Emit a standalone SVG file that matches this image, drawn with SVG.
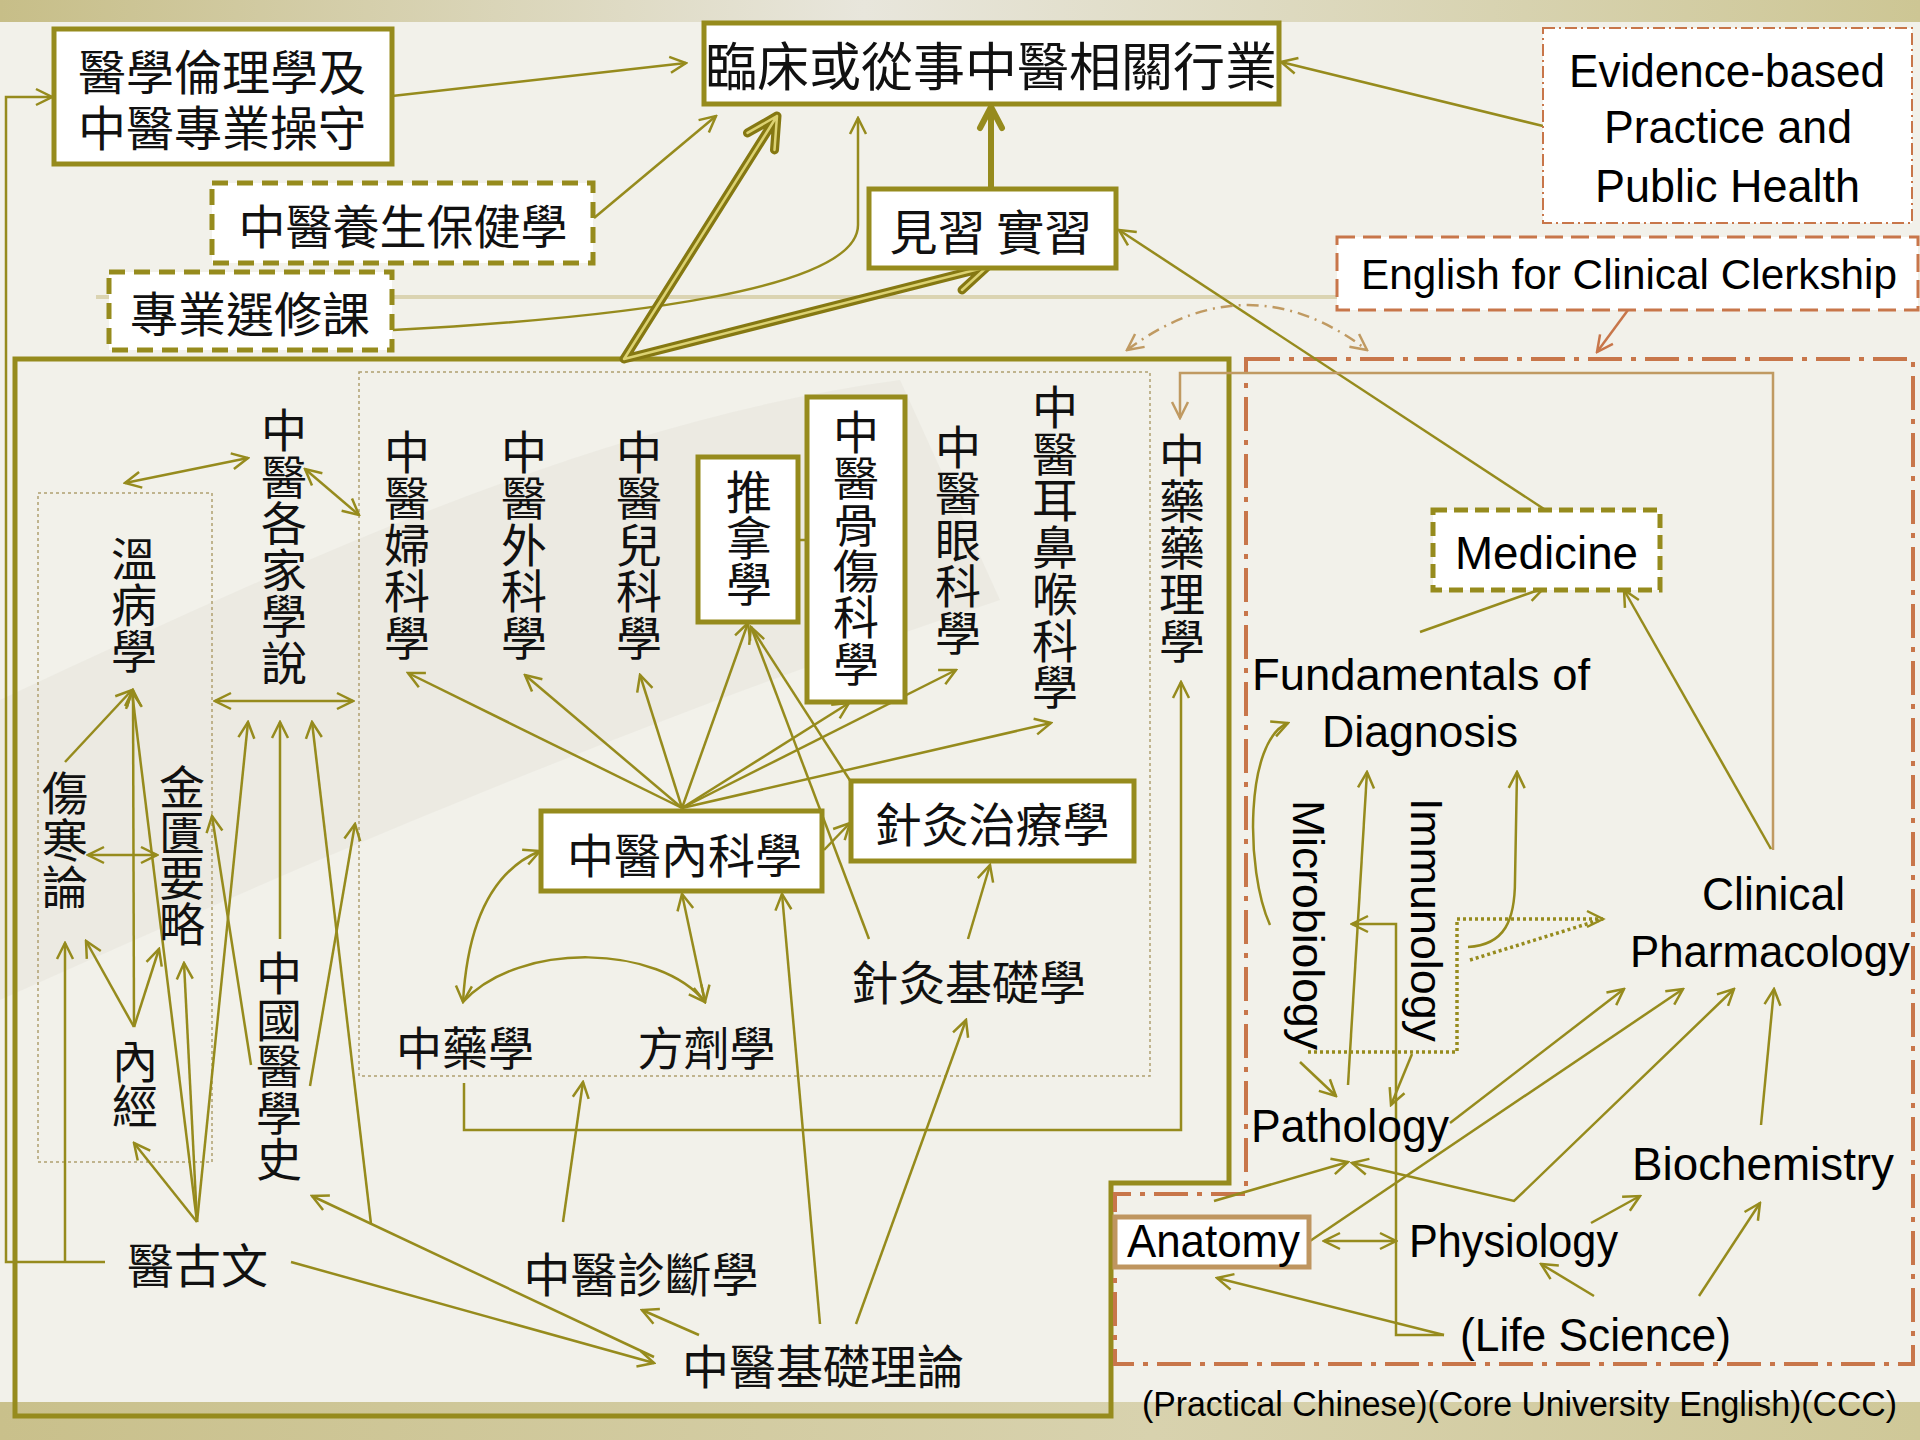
<svg xmlns="http://www.w3.org/2000/svg" width="1920" height="1440" viewBox="0 0 1920 1440">
<defs>
<linearGradient id="band" x1="0" y1="0" x2="1" y2="0">
<stop offset="0" stop-color="#c7be88"/>
<stop offset="0.45" stop-color="#e8e6dc"/>
<stop offset="1" stop-color="#cdc694"/>
</linearGradient>
<linearGradient id="band2" x1="0" y1="0" x2="1" y2="0">
<stop offset="0" stop-color="#c9c08b"/>
<stop offset="0.6" stop-color="#d8d2ae"/>
<stop offset="1" stop-color="#cfc898"/>
</linearGradient>
<marker id="a" viewBox="0 0 20 20" refX="18" refY="10" markerWidth="20" markerHeight="20" markerUnits="userSpaceOnUse" orient="auto-start-reverse">
<path d="M2,2 L18,10 L2,18" fill="none" stroke="#968b1d" stroke-width="2.5"/>
</marker>
<marker id="ao" viewBox="0 0 20 20" refX="18" refY="10" markerWidth="20" markerHeight="20" markerUnits="userSpaceOnUse" orient="auto-start-reverse">
<path d="M2,2 L18,10 L2,18" fill="none" stroke="#c8764a" stroke-width="2.5"/>
</marker>
<marker id="at" viewBox="0 0 20 20" refX="18" refY="10" markerWidth="20" markerHeight="20" markerUnits="userSpaceOnUse" orient="auto-start-reverse">
<path d="M2,2 L18,10 L2,18" fill="none" stroke="#c09a62" stroke-width="2.5"/>
</marker>
<style>
.c{fill:none;stroke:#968b1d;stroke-width:2.5}
.ae{marker-end:url(#a)}
.ab{marker-start:url(#a);marker-end:url(#a)}
.box{fill:#fff;stroke:#968b1d;stroke-width:5}
.dbox{fill:#fff;stroke:#968b1d;stroke-width:5;stroke-dasharray:16 9}
.zh{font-family:'Noto Sans CJK TC','Noto Sans CJK SC',sans-serif;fill:#111;text-anchor:middle}
.en{font-family:'Liberation Sans',Arial,sans-serif;fill:#000}
.dot{fill:none;stroke:#b0a070;stroke-width:1.5;stroke-dasharray:3 3}
</style>
</defs>

<!-- background -->
<rect x="0" y="0" width="1920" height="1440" fill="#f2f1ea"/>
<path d="M0,700 C300,560 600,420 900,380 L1000,600 C700,700 400,820 0,1000 Z" fill="#e4e3da" opacity="0.45"/>
<rect x="0" y="0" width="1920" height="22" fill="url(#band)"/>
<rect x="0" y="1402" width="1920" height="38" fill="url(#band2)"/>
<line x1="96" y1="297" x2="1337" y2="297" stroke="#dbd4b2" stroke-width="4"/>

<!-- frames -->
<g id="frames">
<path d="M15,359 L1229,359 L1229,1183 L1111,1183 L1111,1416 L15,1416 Z" fill="none" stroke="#968b1d" stroke-width="5"/>
<path d="M1246,359 L1913,359 L1913,1364 L1115,1364 L1115,1194 L1246,1194 Z" fill="none" stroke="#c8764a" stroke-width="4" stroke-dasharray="34 9 5 9"/>
<rect x="359" y="372" width="791" height="704" class="dot"/>
<rect x="38" y="493" width="174" height="669" class="dot"/>
</g>

<!-- connectors -->
<g id="connectors">
<path class="c ae" d="M392,96 L686,63"/>
<path class="c ae" d="M594,218 L716,116"/>
<path class="c ae" d="M393,330 C620,318 858,290 858,225 L858,118"/>
<path class="c ae" d="M1543,126 L1281,62"/>
<path class="c ae" d="M1544,509 L1119,230"/>
<path class="c ae" d="M105,1262 L6,1262 L6,97 L52,97"/>
<path class="c ae" d="M65,1262 L65,943"/>
<path class="c ab" d="M125,483 L248,458"/>
<path class="c ab" d="M305,469 L359,515"/>
<path class="c ab" d="M215,701 L353,701"/>
<path class="c ae" d="M65,762 L132,690"/>
<path class="c ae" d="M134,1027 L133,690"/>
<path class="c ae" d="M134,1027 L86,941"/>
<path class="c ae" d="M134,1027 L159,949"/>
<path class="c ab" d="M88,855 L157,855"/>
<path class="c ae" d="M197,1222 L132,692"/>
<path class="c ae" d="M197,1222 L134,1143"/>
<path class="c ae" d="M197,1222 L184,963"/>
<path class="c ae" d="M197,1222 L248,722"/>
<path class="c ae" d="M280,939 L280,722"/>
<path class="c ae" d="M371,1224 L312,722"/>
<path class="c ae" d="M251,1065 L212,816"/>
<path class="c ae" d="M310,1086 L355,824"/>
<path class="c ae" d="M654,1357 L312,1196"/>
<path class="c ae" d="M291,1262 L654,1363"/>
<path class="c ae" d="M699,1335 L642,1310"/>
<path class="c ae" d="M563,1222 L583,1082"/>
<path class="c ae" d="M820,1324 L782,894"/>
<path class="c ae" d="M856,1324 L966,1020"/>
<path class="c ae" d="M968,939 L990,865"/>
<path class="c ae" d="M869,939 L751,627"/>
<path class="c ab" d="M682,894 L705,1002"/>
<path class="c ab" d="M463,1002 Q470,880 540,851"/>
<path class="c ae" d="M463,1002 C520,940 660,945 705,1002"/>
<path class="c ae" d="M682,808 L408,673"/>
<path class="c ae" d="M682,808 L525,675"/>
<path class="c ae" d="M682,808 L640,675"/>
<path class="c ae" d="M682,808 L748,623"/>
<path class="c ae" d="M682,808 L849,703"/>
<path class="c ae" d="M682,808 L956,670"/>
<path class="c ae" d="M682,808 L1051,723"/>
<path class="c ae" d="M824,850 L850,823"/>
<path class="c" d="M851,782 L751,627"/>
<path class="c ab" d="M772,540 L837,540"/>
<path class="c ae" d="M464,1083 L464,1130 L1181,1130 L1181,682"/>
<path d="M1773,850 L1773,373 L1180,373 L1180,418" fill="none" stroke="#c09a62" stroke-width="2.5" marker-end="url(#at)"/>
<path d="M1628,310 L1597,352" fill="none" stroke="#c8764a" stroke-width="2.5" marker-end="url(#ao)"/>
<path d="M1127,350 Q1248,260 1367,350" fill="none" stroke="#c09a62" stroke-width="2.5" stroke-dasharray="12 6 2 6" marker-start="url(#at)" marker-end="url(#at)"/>
<g stroke-linecap="round" stroke-linejoin="round" fill="none">
<path d="M624,359 L777,116 M747.5,132.9 L777,116 L774.5,149.9 M624,359 L987,267 M954,259 L987,267 L962,290" stroke="#857812" stroke-width="9"/>
<path d="M624,359 L777,116 M747.5,132.9 L777,116 L774.5,149.9 M624,359 L987,267 M954,259 L987,267 L962,290" stroke="#dcd272" stroke-width="2.5"/>
<path d="M991,189 L991,108 M980,128 L991,107 L1002,128" stroke="#968b1d" stroke-width="6"/>
</g>
<!-- right region -->
<path class="c ae" d="M1420,632 L1544,588"/>
<path class="c ae" d="M1771,849 L1624,590"/>
<path class="c ae" d="M1270,925 C1245,870 1245,740 1288,723"/>
<path class="c ae" d="M1348,1085 L1367,772"/>
<path class="c ae" d="M1468,947 C1505,945 1515,920 1515,880 L1517,772"/>
<path d="M1308,1052 L1457,1052 L1457,919 L1603,919 M1470,960 L1603,919" fill="none" stroke="#968b1d" stroke-width="3.5" stroke-dasharray="3 3"/>
<path d="M1587,911 L1603,919 L1587,927" fill="none" stroke="#968b1d" stroke-width="2.5"/>
<path class="c ae" d="M1444,1335 L1396,1335 L1396,924 L1352,924"/>
<path class="c ae" d="M1444,1335 L1217,1278"/>
<path class="c ae" d="M1300,1062 L1336,1096"/>
<path class="c ae" d="M1412,1054 L1391,1105"/>
<path class="c ae" d="M1214,1201 L1348,1162"/>
<path class="c ab" d="M1734,989 L1514,1201 L1352,1163"/>
<path class="c ae" d="M1450,1123 L1624,989"/>
<path class="c ae" d="M1310,1241 L1683,989"/>
<path class="c ab" d="M1324,1241 L1396,1241"/>
<path class="c ae" d="M1591,1223 L1640,1196"/>
<path class="c ae" d="M1594,1296 L1541,1264"/>
<path class="c ae" d="M1699,1296 L1760,1203"/>
<path class="c ae" d="M1761,1125 L1774,989"/>
</g>

<!-- nodes -->
<g id="n-ethics"><rect class="box" x="54" y="29" width="338" height="135"/>
<text class="zh" font-size="48"><tspan x="222" y="90">醫學倫理學及</tspan><tspan x="222" y="146">中醫專業操守</tspan></text></g>
<g id="n-career"><rect class="box" x="704" y="23" width="575" height="81"/>
<text class="zh" font-size="52" x="991" y="86">臨床或從事中醫相關行業</text></g>
<g id="n-evidence"><rect x="1543" y="28" width="369" height="195" fill="#fff" stroke="#c8764a" stroke-width="2" stroke-dasharray="12 4 2 4"/>
<text class="en" font-size="46"><tspan x="1569" y="87" textLength="316" lengthAdjust="spacingAndGlyphs">Evidence-based</tspan><tspan x="1604" y="143" textLength="248" lengthAdjust="spacingAndGlyphs">Practice and</tspan><tspan x="1595" y="202" textLength="265" lengthAdjust="spacingAndGlyphs">Public Health</tspan></text></g>
<g id="n-english"><rect x="1337" y="237" width="581" height="73" fill="#fff" stroke="#c8764a" stroke-width="3" stroke-dasharray="18 8"/>
<text class="en" font-size="43" x="1361" y="289" textLength="536" lengthAdjust="spacingAndGlyphs">English for Clinical Clerkship</text></g>
<g id="n-clerk"><rect class="box" x="869" y="189" width="247" height="79"/>
<text class="zh" font-size="48" x="991" y="250">見習 實習</text></g>
<g id="n-yangsheng"><rect class="dbox" x="212" y="183" width="381" height="80"/>
<text class="zh" font-size="47" x="403" y="244">中醫養生保健學</text></g>
<g id="n-elective"><rect class="dbox" x="109" y="272" width="283" height="78"/>
<text class="zh" font-size="48" x="250" y="332">專業選修課</text></g>

<g id="n-gejia"><text class="zh" font-size="46"><tspan x="284" y="447">中</tspan><tspan x="284" y="493.5">醫</tspan><tspan x="284" y="540">各</tspan><tspan x="284" y="586.5">家</tspan><tspan x="284" y="633">學</tspan><tspan x="284" y="679.5">說</tspan></text></g>
<g id="n-wenbing"><text class="zh" font-size="46"><tspan x="134" y="576">溫</tspan><tspan x="134" y="622">病</tspan><tspan x="134" y="668">學</tspan></text></g>
<g id="n-fuke"><text class="zh" font-size="46"><tspan x="407" y="469">中</tspan><tspan x="407" y="515.4">醫</tspan><tspan x="407" y="561.8">婦</tspan><tspan x="407" y="608.2">科</tspan><tspan x="407" y="654.6">學</tspan></text></g>
<g id="n-waike"><text class="zh" font-size="46"><tspan x="524" y="469">中</tspan><tspan x="524" y="515.4">醫</tspan><tspan x="524" y="561.8">外</tspan><tspan x="524" y="608.2">科</tspan><tspan x="524" y="654.6">學</tspan></text></g>
<g id="n-erke"><text class="zh" font-size="46"><tspan x="639" y="469">中</tspan><tspan x="639" y="515.4">醫</tspan><tspan x="639" y="561.8">兒</tspan><tspan x="639" y="608.2">科</tspan><tspan x="639" y="654.6">學</tspan></text></g>
<g id="n-tuina"><rect class="box" x="698" y="457" width="100" height="165"/>
<text class="zh" font-size="46"><tspan x="749" y="509">推</tspan><tspan x="749" y="555">拿</tspan><tspan x="749" y="601">學</tspan></text></g>
<g id="n-gushang"><rect class="box" x="807" y="397" width="98" height="305"/>
<text class="zh" font-size="46"><tspan x="856" y="449">中</tspan><tspan x="856" y="495.3">醫</tspan><tspan x="856" y="541.6">骨</tspan><tspan x="856" y="587.9">傷</tspan><tspan x="856" y="634.2">科</tspan><tspan x="856" y="680.5">學</tspan></text></g>
<g id="n-yanke"><text class="zh" font-size="46"><tspan x="958" y="464">中</tspan><tspan x="958" y="510.4">醫</tspan><tspan x="958" y="556.8">眼</tspan><tspan x="958" y="603.2">科</tspan><tspan x="958" y="649.6">學</tspan></text></g>
<g id="n-ebh"><text class="zh" font-size="46"><tspan x="1055" y="424">中</tspan><tspan x="1055" y="470.7">醫</tspan><tspan x="1055" y="517.4">耳</tspan><tspan x="1055" y="564.1">鼻</tspan><tspan x="1055" y="610.8">喉</tspan><tspan x="1055" y="657.5">科</tspan><tspan x="1055" y="704.2">學</tspan></text></g>
<g id="n-yaoli"><text class="zh" font-size="46"><tspan x="1182" y="472">中</tspan><tspan x="1182" y="518.4">藥</tspan><tspan x="1182" y="564.8">藥</tspan><tspan x="1182" y="611.2">理</tspan><tspan x="1182" y="657.6">學</tspan></text></g>
<g id="n-shanghan"><text class="zh" font-size="46"><tspan x="65" y="810">傷</tspan><tspan x="65" y="857">寒</tspan><tspan x="65" y="904">論</tspan></text></g>
<g id="n-jingui"><text class="zh" font-size="46"><tspan x="182" y="804">金</tspan><tspan x="182" y="849.5">匱</tspan><tspan x="182" y="895">要</tspan><tspan x="182" y="940.5">略</tspan></text></g>
<g id="n-neijing"><text class="zh" font-size="46"><tspan x="135" y="1078">內</tspan><tspan x="135" y="1123">經</tspan></text></g>
<g id="n-history"><text class="zh" font-size="46"><tspan x="279" y="990">中</tspan><tspan x="279" y="1036.6">國</tspan><tspan x="279" y="1083.2">醫</tspan><tspan x="279" y="1129.8">學</tspan><tspan x="279" y="1176.4">史</tspan></text></g>
<g id="n-guwen"><text class="zh" font-size="47" x="197.5" y="1283">醫古文</text></g>
<g id="n-neike"><rect class="box" x="541" y="811" width="281" height="80"/>
<text class="zh" font-size="47" x="684.5" y="873">中醫內科學</text></g>
<g id="n-zhenjiu"><rect class="box" x="851" y="781" width="283" height="80"/>
<text class="zh" font-size="47" x="992" y="842">針灸治療學</text></g>
<g id="n-zjbase"><text class="zh" font-size="47" x="968.5" y="1000">針灸基礎學</text></g>
<g id="n-zhongyao"><text class="zh" font-size="46" x="465" y="1065">中藥學</text></g>
<g id="n-fangji"><text class="zh" font-size="46" x="706.5" y="1065">方劑學</text></g>
<g id="n-zhenduan"><text class="zh" font-size="47" x="641" y="1292">中醫診斷學</text></g>
<g id="n-jichu"><text class="zh" font-size="47" x="823" y="1384">中醫基礎理論</text></g>

<g id="n-medicine"><rect class="dbox" x="1433" y="510" width="227" height="80" style="stroke-dasharray:14 7"/>
<text class="en" font-size="46" x="1455" y="569" textLength="183" lengthAdjust="spacingAndGlyphs">Medicine</text></g>
<g id="n-fund"><text class="en" font-size="45"><tspan x="1252" y="690" textLength="338" lengthAdjust="spacingAndGlyphs">Fundamentals of</tspan><tspan x="1322" y="747" textLength="196" lengthAdjust="spacingAndGlyphs">Diagnosis</tspan></text></g>
<g id="n-micro"><text class="en" font-size="45" transform="translate(1293,800) rotate(90)" x="0" y="0" textLength="250" lengthAdjust="spacingAndGlyphs">Microbiology</text></g>
<g id="n-immuno"><text class="en" font-size="45" transform="translate(1411,798) rotate(90)" x="0" y="0" textLength="244" lengthAdjust="spacingAndGlyphs">Immunology</text></g>
<g id="n-clinpharm"><text class="en" font-size="46" x="1702" y="910" textLength="143" lengthAdjust="spacingAndGlyphs">Clinical</text>
<text class="en" font-size="44" x="1630" y="967" textLength="280" lengthAdjust="spacingAndGlyphs">Pharmacology</text></g>
<g id="n-patho"><text class="en" font-size="46" x="1251" y="1142" textLength="198" lengthAdjust="spacingAndGlyphs">Pathology</text></g>
<g id="n-biochem"><text class="en" font-size="46" x="1632" y="1180" textLength="262" lengthAdjust="spacingAndGlyphs">Biochemistry</text></g>
<g id="n-physio"><text class="en" font-size="46" x="1409" y="1257" textLength="209" lengthAdjust="spacingAndGlyphs">Physiology</text></g>
<g id="n-anatomy"><rect x="1115" y="1217" width="194" height="50" fill="#fff" stroke="#bf9660" stroke-width="5"/>
<text class="en" font-size="46" x="1127" y="1257" textLength="173" lengthAdjust="spacingAndGlyphs">Anatomy</text></g>
<g id="n-life"><text class="en" font-size="46" x="1460" y="1351" textLength="271" lengthAdjust="spacingAndGlyphs">(Life Science)</text></g>
<g id="n-caption"><text class="en" font-size="35" x="1142" y="1416" textLength="755" lengthAdjust="spacingAndGlyphs">(Practical Chinese)(Core University English)(CCC)</text></g>
</svg>
